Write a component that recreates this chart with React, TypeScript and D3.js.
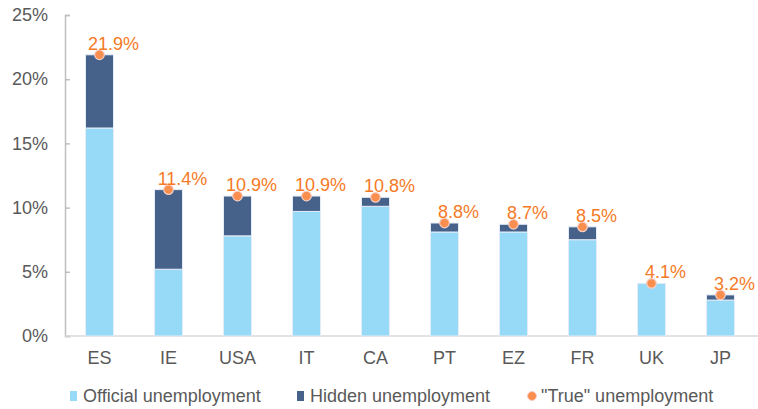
import React, { useEffect, useRef } from "react";
import * as d3 from "d3";

const countries = ["ES", "IE", "USA", "IT", "CA", "PT", "EZ", "FR", "UK", "JP"];
const official = [16.2, 5.2, 7.8, 9.7, 10.1, 8.1, 8.1, 7.5, 4.1, 2.8];
const trueRate = [21.9, 11.4, 10.9, 10.9, 10.8, 8.8, 8.7, 8.5, 4.1, 3.2];
const yTicks = [0, 5, 10, 15, 20, 25];
const legendLabels = ["Official unemployment", "Hidden unemployment", "\"True\" unemployment"];

const W = 758;
const H = 409;
const FONT = "'Liberation Sans', Arial, sans-serif";

const App: React.FC = () => {
  const ref = useRef<SVGSVGElement | null>(null);

  useEffect(() => {
    const svg = d3.select(ref.current);
    svg.selectAll("*").remove();

    const x = d3.scaleBand<string>().domain(countries).range([65, 755]).paddingInner(0.594).paddingOuter(0.297);
    const y = d3.scaleLinear().domain([0, 25]).range([336, 15]);

    const rows = countries.map((c, i) => ({
      c,
      off: official[i],
      hid: Math.max(0, trueRate[i] - official[i]),
      tot: trueRate[i],
    }));

    // y axis, ticks point inward
    const yAxis = d3
      .axisLeft(y)
      .tickValues(yTicks)
      .tickSize(-5)
      .tickPadding(17)
      .tickFormat((d) => `${d}%`);
    const ya = svg.append("g").attr("transform", "translate(65,0)").call(yAxis);
    ya.select(".domain").attr("stroke", "#bfbfbf").attr("stroke-width", 1.5);
    ya.selectAll(".tick line").attr("stroke", "#bfbfbf").attr("stroke-width", 1.5);
    ya.selectAll(".tick text")
      .attr("fill", "#595959")
      .attr("font-size", 18)
      .attr("font-family", FONT);

    // x axis
    const xAxis = d3.axisBottom(x).tickSize(0).tickPadding(15);
    const xa = svg.append("g").attr("transform", "translate(0,336)").call(xAxis);
    xa.select(".domain").attr("stroke", "#d9d9d9").attr("stroke-width", 1.5).attr("d", "M65,0H758");
    xa.selectAll(".tick text")
      .attr("fill", "#595959")
      .attr("font-size", 18)
      .attr("font-family", FONT);

    // stacked bars
    const bars = svg.append("g");
    bars
      .selectAll("rect.off")
      .data(rows)
      .enter()
      .append("rect")
      .attr("class", "off")
      .attr("x", (d) => x(d.c)!)
      .attr("width", x.bandwidth())
      .attr("y", (d) => y(d.off))
      .attr("height", (d) => y(0) - y(d.off))
      .attr("fill", "#97daf7")
      .attr("stroke", "#e4ecf7")
      .attr("stroke-width", 1);
    bars
      .selectAll("rect.hid")
      .data(rows.filter((d) => d.hid > 0))
      .enter()
      .append("rect")
      .attr("class", "hid")
      .attr("x", (d) => x(d.c)!)
      .attr("width", x.bandwidth())
      .attr("y", (d) => y(d.off + d.hid))
      .attr("height", (d) => y(d.off) - y(d.off + d.hid))
      .attr("fill", "#46628b")
      .attr("stroke", "#e4ecf7")
      .attr("stroke-width", 1);

    // true unemployment dots + labels
    const cx = (d: { c: string }) => x(d.c)! + x.bandwidth() / 2;
    svg
      .append("g")
      .selectAll("circle")
      .data(rows)
      .enter()
      .append("circle")
      .attr("cx", cx)
      .attr("cy", (d) => y(d.tot))
      .attr("r", 4.8)
      .attr("fill", "#f98e4e")
      .attr("stroke", "#f6cfc6")
      .attr("stroke-width", 1.2);
    svg
      .append("g")
      .selectAll("text")
      .data(rows)
      .enter()
      .append("text")
      .attr("x", (d) => cx(d) + 14)
      .attr("y", (d) => y(d.tot) - 5)
      .attr("text-anchor", "middle")
      .attr("fill", "#f67a26")
      .attr("font-size", 18)
      .attr("font-family", FONT)
      .text((d) => `${d.tot.toFixed(1)}%`);

    // legend
    const lg = svg.append("g").attr("font-family", FONT).attr("font-size", 18).attr("fill", "#595959");
    const legendX = [70, 297, 528];
    lg.append("rect").attr("x", legendX[0]).attr("y", 391).attr("width", 7).attr("height", 10).attr("fill", "#97daf7");
    lg.append("rect").attr("x", legendX[1]).attr("y", 391).attr("width", 7).attr("height", 10).attr("fill", "#46628b");
    lg.append("circle").attr("cx", legendX[2] + 4).attr("cy", 396).attr("r", 4.5).attr("fill", "#f98e4e").attr("stroke", "#f6cfc6");
    legendLabels.forEach((t, i) => {
      lg.append("text")
        .attr("x", legendX[i] + 13)
        .attr("y", 402)
        .text(t);
    });
  }, []);

  return (
    <svg
      ref={ref}
      width={W}
      height={H}
      viewBox={`0 0 ${W} ${H}`}
      style={{ position: "absolute", left: 0, top: 0, background: "#fff" }}
    />
  );
};

export default App;
